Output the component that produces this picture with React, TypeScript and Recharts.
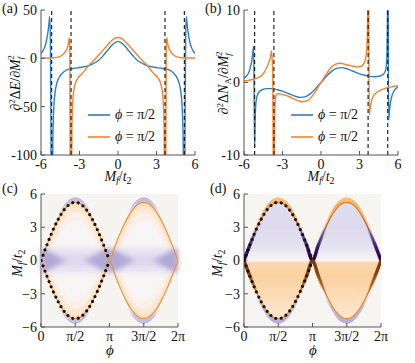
import React from "react";
import {
  ComposedChart,
  Line,
  Area,
  XAxis,
  YAxis,
  ReferenceLine,
  ReferenceArea,
  Legend,
  Label,
  CartesianGrid,
} from "recharts";

const FONT = "Liberation Serif, DejaVu Serif, serif";
const FRAME = "#555";
const BLUE = "#2f7ec1";
const ORANGE = "#f5822a";

// ---- (a) second derivative of the energy gap
const aBlueX = [-6, -5.8, -5.65, -5.55, -5.45, -5.38, -5.32, -5.27, -5.23, -5.2, -5.13, -5.07, -5.0, -4.9, -4.75, -4.55, -4.3, -4.0, -3.5, -3.0, -2.5, -2.0, -1.6, -1.2, -0.8, -0.4, 0, 0.4, 0.8, 1.2, 1.6, 2.0, 2.5, 3.0, 3.5, 4.0, 4.3, 4.55, 4.75, 4.9, 5.0, 5.07, 5.13, 5.2, 5.23, 5.27, 5.32, 5.38, 5.45, 5.55, 5.65, 5.8, 6];
const aBlueY = [5, 9, 14, 20, 28, 36, 43, 20, -60, -150, -150, -80, -50, -35, -25, -19, -15, -12, -10.5, -9.5, -8.5, -6, -3, 2, 8.5, 14.5, 17.5, 14.5, 8.5, 2, -3, -6, -8.5, -9.5, -10.5, -12, -15, -19, -25, -35, -50, -80, -150, -150, -60, 20, 43, 36, 28, 20, 14, 9, 5];
const aOrangeX = [-6, -5.5, -5, -4.6, -4.3, -4.05, -3.9, -3.8, -3.76, -3.71, -3.63, -3.59, -3.5, -3.35, -3.1, -2.8, -2.5, -2.2, -1.8, -1.4, -1.0, -0.6, -0.3, 0, 0.3, 0.6, 1.0, 1.4, 1.8, 2.2, 2.5, 2.8, 3.1, 3.35, 3.5, 3.59, 3.63, 3.71, 3.76, 3.8, 3.9, 4.05, 4.3, 4.6, 5, 5.5, 6];
const aOrangeY = [0.3, 0.3, 0.6, 1.5, 4, 8, 13, 21, 14, -150, -150, -70, -40, -27, -20, -16, -11, -6, -1, 5, 11, 17, 20.5, 21.5, 20.5, 17, 11, 5, -1, -6, -11, -16, -20, -27, -40, -70, -150, -150, 14, 21, 13, 8, 4, 1.5, 0.6, 0.3, 0.3];
const aDivergences = [-5.17, -3.66, 3.66, 5.17];

// ---- (b) second derivative of the sublattice occupation
const bBlueX = [-6, -5.8, -5.6, -5.45, -5.33, -5.25, -5.21, -5.17, -5.13, -5.05, -4.9, -4.6, -4.2, -3.8, -3.4, -3.0, -2.5, -2.0, -1.6, -1.2, -0.8, -0.4, 0, 0.4, 0.8, 1.2, 1.6, 2.0, 2.5, 3.0, 3.4, 3.8, 4.2, 4.6, 4.9, 5.05, 5.13, 5.17, 5.2, 5.23, 5.27, 5.35, 5.45, 5.6, 5.8, 6];
const bBlueY = [0.6, 0.9, 1.5, 2.5, 3.8, 5, -2, -9, -5, -2.5, -1.5, -1.0, -0.85, -0.85, -1.0, -1.2, -1.55, -1.9, -2.05, -1.95, -1.5, -0.8, 0, 0.8, 1.5, 1.95, 2.05, 1.9, 1.55, 1.2, 1.0, 0.85, 0.8, 0.9, 1.2, 1.8, 3.5, 8, 14, 14, -5.2, -3.6, -2.4, -1.5, -0.9, -0.6];
const bOrangeX = [-6, -5.5, -5, -4.6, -4.3, -4.1, -3.95, -3.85, -3.76, -3.71, -3.65, -3.61, -3.57, -3.5, -3.35, -3.1, -2.8, -2.4, -2.0, -1.5, -1.1, -0.7, -0.35, 0, 0.35, 0.7, 1.1, 1.5, 2.0, 2.4, 2.8, 3.1, 3.3, 3.45, 3.55, 3.62, 3.67, 3.71, 3.76, 3.85, 3.98, 4.2, 4.6, 5.0, 5.5, 6];
const bOrangeY = [0.2, 0.35, 0.6, 1.0, 1.8, 2.6, 3.4, 4.4, 1, -14, -14, -5, -2.6, -1.8, -1.55, -1.6, -1.75, -2.0, -2.35, -2.65, -2.55, -1.9, -1.0, 0, 1.0, 1.9, 2.5, 2.65, 2.45, 2.3, 2.15, 2.2, 2.5, 3.1, 4.3, 7, 14, 14, -4.5, -3.3, -2.3, -1.6, -1.1, -0.8, -0.6, -0.45];
const bDivergences = [-5.17, -3.67, 3.67, 5.2];

const seriesNames = ["ϕ = π/2", "ϕ = π/2"];
const seriesColors = [BLUE, ORANGE];
const mTicks = [-6, -3, 0, 3, 6];

// ---- (c), (d) maps over phi (degrees) and M_f
const phiDeg = [0, 15, 30, 45, 60, 75, 90, 105, 120, 135, 150, 165, 180, 195, 210, 225, 240, 255, 270, 285, 300, 315, 330, 345, 360];
const boundC = [0, 1.36, 2.63, 3.71, 4.55, 5.07, 5.25, 5.07, 4.55, 3.71, 2.63, 1.36, 0, 1.36, 2.63, 3.71, 4.55, 5.07, 5.25, 5.07, 4.55, 3.71, 2.63, 1.36, 0];
const boundD = [0, 1.36, 2.63, 3.71, 4.55, 5.07, 5.25, 5.07, 4.55, 3.71, 2.63, 1.36, 0, 1.36, 2.63, 3.71, 4.55, 5.07, 5.25, 5.07, 4.55, 3.71, 2.63, 1.36, 0];
// half height of the purple spots of (c) where the lobes touch
const spotC = [1.1, 0.95, 0.65, 0.35, 0.12, 0, 0, 0, 0.12, 0.35, 0.65, 0.95, 1.1, 0.95, 0.65, 0.35, 0.12, 0, 0, 0, 0.12, 0.35, 0.65, 0.95, 1.1];
const phiTicks = [0, 90, 180, 270, 360];
const phiTickLabels = ["0", "π/2", "π", "3π/2", "2π"];
const cbarTicksC = [-100, 0, 100];
const cbarTicksD = [-10, 0, 10];

// (c) shading: colour bands inside each lobe, from the rim inwards, then the lavender core around M_f = 0
const cRimInset = [0, 0.35, 0.9, 1.6];
const cRimColors = ["#fbdfbd", "#fce8d4", "#fbf0e7", "#f7f5f5"];
const cRimBlur = [0, 1.2, 1.2, 1.2];
const cCoreHalf = [1.2, 0.6];
const cCoreColors = ["#e9e6f3", "#dedaee"];

const GLOW = 0.45;

const rowsA_blue = aBlueX.map((x, i) => ({ x, blue: aBlueY[i] }));
const rowsA_orange = aOrangeX.map((x, i) => ({ x, orange: aOrangeY[i] }));
const rowsB_blue = bBlueX.map((x, i) => ({ x, blue: bBlueY[i] }));
const rowsB_orange = bOrangeX.map((x, i) => ({ x, orange: bOrangeY[i] }));

const heatRows = (bound: number[]) =>
  phiDeg.map((phi, i) => {
    const b = bound[i];
    const row: Record<string, number | null> = {
      phi,
      up: b,
      dn: -b,
      gUp: b + GLOW,
      gDn: -b - GLOW,
      sUp: spotC[i],
      sDn: -spotC[i],
      dotUp: phi <= 180 ? b : null,
      dotDn: phi <= 180 ? -b : null,
    };
    cRimInset.forEach((d, k) => {
      row[`r${k}u`] = Math.max(b - d, 0);
      row[`r${k}d`] = -Math.max(b - d, 0);
    });
    cCoreHalf.forEach((h, k) => {
      row[`k${k}u`] = Math.min(b, h);
      row[`k${k}d`] = -Math.min(b, h);
    });
    return row;
  });
const heatC = heatRows(boundC);
const heatD = heatRows(boundD);

const tickStyle = { fontSize: 14, fill: "#111", fontFamily: FONT };
const minus = (v: number) => (v < 0 ? "\u2212" + Math.abs(v) : String(v));
const phiFmt = (v: number) => phiTickLabels[phiTicks.indexOf(v)] ?? "";
const blank = () => "";

// vertical gradient over a shape's bounding box, stops given in M_f units
function BoxGrad({ id, top, bottom, stops }: { id: string; top: number; bottom: number; stops: [number, string, number][] }) {
  return (
    <linearGradient id={id} x1={0} y1={0} x2={0} y2={1}>
      {stops.map(([m, c, o], i) => (
        <stop key={i} offset={Math.min(1, Math.max(0, (top - m) / (top - bottom)))} stopColor={c} stopOpacity={o} />
      ))}
    </linearGradient>
  );
}

function axes(o: {
  xKey: string;
  xDomain: number[];
  xTicks: number[];
  xFmt?: (v: number) => string;
  xHeight: number;
  xTickMargin: number;
  yDomain: number[];
  yTicks: number[];
  yFmt?: (v: number) => string;
  xLabel: () => any;
  yLabel: () => any;
}) {
  return [
    <XAxis
      key="xb"
      dataKey={o.xKey}
      type="number"
      domain={o.xDomain}
      ticks={o.xTicks}
      tickFormatter={o.xFmt}
      interval={0}
      height={o.xHeight}
      stroke={FRAME}
      tickSize={-4}
      tickMargin={o.xTickMargin}
      tick={tickStyle}
      allowDataOverflow
    >
      <Label content={o.xLabel} />
    </XAxis>,
    <XAxis
      key="xt"
      xAxisId="t"
      orientation="top"
      type="number"
      domain={o.xDomain}
      ticks={o.xTicks}
      interval={0}
      height={0}
      stroke={FRAME}
      tickSize={-4}
      tickFormatter={blank}
      allowDataOverflow
    />,
    <YAxis
      key="yl"
      type="number"
      domain={o.yDomain}
      ticks={o.yTicks}
      tickFormatter={o.yFmt}
      interval={0}
      width={41}
      stroke={FRAME}
      tickSize={-4}
      tickMargin={8}
      tick={tickStyle}
      allowDataOverflow
    >
      <Label content={o.yLabel} />
    </YAxis>,
    <YAxis
      key="yr"
      yAxisId="r"
      orientation="right"
      type="number"
      domain={o.yDomain}
      ticks={o.yTicks}
      interval={0}
      width={0}
      stroke={FRAME}
      tickSize={-4}
      tickFormatter={blank}
      allowDataOverflow
    />,
  ];
}

const hiddenAxes = [
  <XAxis key="hx" dataKey="phi" type="number" domain={[0, 360]} hide allowDataOverflow />,
  <YAxis key="hy" type="number" domain={[-6, 6]} hide allowDataOverflow />,
];

const MfOverT = (x: number, y: number, rotate: boolean) => () => (
  <text
    x={x}
    y={y}
    transform={rotate ? `rotate(-90 ${x} ${y})` : undefined}
    textAnchor="middle"
    fontFamily={FONT}
    fontSize={14}
    fill="#111"
  >
    <tspan fontStyle="italic">M</tspan>
    <tspan dy={3} fontSize={10} fontStyle="italic">f</tspan>
    <tspan dy={-3}>/</tspan>
    <tspan fontStyle="italic">t</tspan>
    <tspan dy={3} fontSize={10}>2</tspan>
  </text>
);

const phiLabel = (x: number, y: number) => () => (
  <text x={x} y={y} textAnchor="middle" fontFamily={FONT} fontSize={15} fontStyle="italic" fill="#111">
    ϕ
  </text>
);

const dELabel = () => (
  <text x={20} y={83} transform="rotate(-90 20 83)" textAnchor="middle" fontFamily={FONT} fontSize={14} fill="#111">
    <tspan>∂</tspan>
    <tspan dy={-5} fontSize={9}>2</tspan>
    <tspan dy={5}>Δ</tspan>
    <tspan fontStyle="italic">E</tspan>
    <tspan>/∂</tspan>
    <tspan fontStyle="italic">M</tspan>
    <tspan dy={3} fontSize={9} fontStyle="italic">f</tspan>
    <tspan dx={-3} dy={-9} fontSize={9}>2</tspan>
  </text>
);

const dNLabel = () => (
  <text x={25} y={83} transform="rotate(-90 25 83)" textAnchor="middle" fontFamily={FONT} fontSize={14} fill="#111">
    <tspan>∂</tspan>
    <tspan dy={-5} fontSize={9}>2</tspan>
    <tspan dy={5}>Δ</tspan>
    <tspan fontStyle="italic">N</tspan>
    <tspan dy={3} fontSize={9}>A</tspan>
    <tspan dy={-3}>/∂</tspan>
    <tspan fontStyle="italic">M</tspan>
    <tspan dy={3} fontSize={9} fontStyle="italic">f</tspan>
    <tspan dx={-3} dy={-9} fontSize={9}>2</tspan>
  </text>
);

const legendContent = () => (
  <div style={{ fontFamily: FONT, fontSize: 14, color: "#111" }}>
    {seriesNames.map((v, i) => (
      <div key={i} style={{ display: "flex", alignItems: "center", height: 22 }}>
        <svg width={22} height={6} style={{ marginRight: 5, flex: "none" }}>
          <line x1={0} y1={3} x2={22} y2={3} stroke={seriesColors[i]} strokeWidth={1.6} />
        </svg>
        <span>
          <i>{v[0]}</i>
          {v.slice(1)}
        </span>
      </div>
    ))}
  </div>
);

function LinePanel(p: {
  width: number;
  right: number;
  blue: any[];
  orange: any[];
  yDomain: number[];
  yTicks: number[];
  div: number[];
  yLabel: () => any;
  legendLeft: number;
}) {
  return (
    <ComposedChart width={p.width} height={185} margin={{ top: 10, right: p.right, bottom: 0, left: 0 }}>
      {axes({
        xKey: "x",
        xDomain: [-6, 6],
        xTicks: mTicks,
        xHeight: 30,
        xTickMargin: 8,
        yDomain: p.yDomain,
        yTicks: p.yTicks,
        xLabel: MfOverT(118, 181, false),
        yLabel: p.yLabel,
      })}
      <Line data={p.blue} dataKey="blue" name={seriesNames[0]} type="monotone" stroke={BLUE} strokeWidth={1.4} dot={false} activeDot={false} isAnimationActive={false} />
      <Line data={p.orange} dataKey="orange" name={seriesNames[1]} type="monotone" stroke={ORANGE} strokeWidth={1.4} dot={false} activeDot={false} isAnimationActive={false} />
      {p.div.map((x) => (
        <ReferenceLine key={x} x={x} stroke="#111" strokeWidth={1.1} strokeDasharray="4 3" />
      ))}
      <Legend
        layout="vertical"
        align="center"
        verticalAlign="middle"
        content={legendContent}
        wrapperStyle={{ left: p.legendLeft, top: 104, width: 90 }}
      />
    </ComposedChart>
  );
}

const noMarks = { dot: false, activeDot: false, isAnimationActive: false } as const;
const HEAT_H = 183;
const layer: React.CSSProperties = { position: "absolute", left: 0, top: 0 };

// a transparent chart drawn over the base one with the same plot box
function Overlay({ width, right, data, blur, children }: { width: number; right: number; data: any[]; blur?: number; children: React.ReactNode }) {
  return (
    <div style={{ ...layer, filter: blur ? `blur(${blur}px)` : undefined }}>
      <ComposedChart width={width} height={HEAT_H} data={data} margin={{ top: 14, right, bottom: 36, left: 41 }}>
        {hiddenAxes}
        {children}
      </ComposedChart>
    </div>
  );
}

// pair of solid areas, one above and one below M_f = 0, never overlapping
const solidPair = (u: string, d: string, color: string) => [
  <Area key={u} dataKey={u} baseValue={0} type="monotone" stroke="none" fill={color} fillOpacity={1} {...noMarks} />,
  <Area key={d} dataKey={d} baseValue={0} type="monotone" stroke="none" fill={color} fillOpacity={1} {...noMarks} />,
];

function HeatBase(p: {
  width: number;
  right: number;
  data: any[];
  bg: string;
  yLabelX: number;
  tag: string;
  glowUp: [number, string, number][];
  glowDn: [number, string, number][];
}) {
  return (
    <div style={layer}>
      <ComposedChart width={p.width} height={HEAT_H} data={p.data} margin={{ top: 14, right: p.right, bottom: 0, left: 0 }}>
        <defs>
          <BoxGrad id={`${p.tag}GlowUp`} top={5.7} bottom={0} stops={p.glowUp} />
          <BoxGrad id={`${p.tag}GlowDn`} top={0} bottom={-5.7} stops={p.glowDn} />
        </defs>
        <CartesianGrid horizontal={false} vertical={false} fill={p.bg} stroke="none" />
        {axes({
          xKey: "phi",
          xDomain: [0, 360],
          xTicks: phiTicks,
          xFmt: phiFmt,
          xHeight: 36,
          xTickMargin: 8,
          yDomain: [-6, 6],
          yTicks: mTicks,
          yFmt: minus,
          xLabel: phiLabel(110, 175),
          yLabel: MfOverT(p.yLabelX, 83, true),
        })}
        <Area dataKey="gUp" baseValue={0} type="monotone" stroke="none" fill={`url(#${p.tag}GlowUp)`} fillOpacity={1} {...noMarks} />
        <Area dataKey="gDn" baseValue={0} type="monotone" stroke="none" fill={`url(#${p.tag}GlowDn)`} fillOpacity={1} {...noMarks} />
      </ComposedChart>
    </div>
  );
}

const dotLines = [
  <Line key="du" dataKey="dotUp" type="monotone" stroke="#111" strokeWidth={3.2} strokeDasharray="0 5.6" strokeLinecap="round" {...noMarks} />,
  <Line key="dd" dataKey="dotDn" type="monotone" stroke="#111" strokeWidth={3.2} strokeDasharray="0 5.6" strokeLinecap="round" {...noMarks} />,
];

function PanelC() {
  const w = 205;
  const r = 27;
  return (
    <div style={{ position: "relative", width: w, height: HEAT_H }}>
      <HeatBase
        width={w}
        right={r}
        data={heatC}
        bg="#f6f4f1"
        yLabelX={22}
        tag="c"
        glowUp={[[5.7, "#bfb6dc", 1], [4.9, "#cbc4e3", 0.9], [4.0, "#e6e2f1", 0]]}
        glowDn={[[-4.0, "#e6e2f1", 0], [-4.9, "#cbc4e3", 0.9], [-5.7, "#bfb6dc", 1]]}
      />
      {cRimInset.map((_, k) => (
        <Overlay key={`r${k}`} width={w} right={r} data={heatC} blur={cRimBlur[k]}>
          {solidPair(`r${k}u`, `r${k}d`, cRimColors[k])}
        </Overlay>
      ))}
      {cCoreHalf.map((_, k) => (
        <Overlay key={`k${k}`} width={w} right={r} data={heatC} blur={2.2}>
          {solidPair(`k${k}u`, `k${k}d`, cCoreColors[k])}
        </Overlay>
      ))}
      <Overlay width={w} right={r} data={heatC} blur={2.4}>
        <Area dataKey="sUp" baseValue={0} type="monotone" stroke="none" fill="#a49ad0" fillOpacity={0.8} {...noMarks} />
        <Area dataKey="sDn" baseValue={0} type="monotone" stroke="none" fill="#a49ad0" fillOpacity={0.8} {...noMarks} />
      </Overlay>
      <Overlay width={w} right={r} data={heatC}>
        <Line dataKey="up" type="monotone" stroke="#ec8f30" strokeWidth={1.1} {...noMarks} />
        <Line dataKey="dn" type="monotone" stroke="#ec8f30" strokeWidth={1.1} {...noMarks} />
        {dotLines}
      </Overlay>
    </div>
  );
}

function PanelD() {
  const w = 212;
  const r = 34;
  return (
    <div style={{ position: "relative", width: w, height: HEAT_H }}>
      <HeatBase
        width={w}
        right={r}
        data={heatD}
        bg="#f7f5f1"
        yLabelX={19}
        tag="d"
        glowUp={[[5.7, "#f8c484", 1], [5.0, "#f5b060", 1], [3.6, "#f7c07c", 0.9], [2.2, "#f9d6ab", 0.5], [1.2, "#ffffff", 0]]}
        glowDn={[[-2.8, "#c9c2e3", 0], [-4.2, "#bfb6dd", 0.9], [-5.7, "#b6acd8", 1]]}
      />
      <Overlay width={w} right={r} data={heatD}>
        <defs>
          <BoxGrad id="dTop" top={5.25} bottom={0} stops={[[5.25, "#e0ddef", 1], [3, "#dedaed", 1], [1.5, "#e3e0f0", 1], [0.6, "#eeecf4", 1], [0, "#f6f5f6", 1]]} />
          <BoxGrad id="dBottom" top={0} bottom={-5.25} stops={[[0, "#fbf0e4", 1], [-0.25, "#fbd8ae", 1], [-1.5, "#fad1a0", 1], [-3, "#fcdbb5", 1], [-5.25, "#fde7d0", 1]]} />
        </defs>
        <Area dataKey="up" baseValue={0} type="monotone" stroke="none" fill="url(#dTop)" fillOpacity={1} {...noMarks} />
        <Area dataKey="dn" baseValue={0} type="monotone" stroke="none" fill="url(#dBottom)" fillOpacity={1} {...noMarks} />
      </Overlay>
      <Overlay width={w} right={r} data={heatD}>
        <defs>
          <BoxGrad id="dThickUp" top={5.25} bottom={0} stops={[[3, "#8073ac", 0], [2.2, "#5f4c98", 0.6], [1.2, "#3d1a6c", 1], [0, "#2d004b", 1]]} />
          <BoxGrad id="dThickDn" top={0} bottom={-5.25} stops={[[0, "#7f3b08", 1], [-1.2, "#8a460b", 1], [-2.2, "#c06a18", 0.6], [-3, "#e08214", 0]]} />
          <BoxGrad id="dThinUp" top={5.25} bottom={0} stops={[[5.25, "#d5802a", 1], [4.2, "#d5802a", 1], [3, "#a05c3a", 1], [2, "#4a2a7a", 1], [0, "#2d004b", 1]]} />
          <BoxGrad id="dThinDn" top={0} bottom={-5.25} stops={[[0, "#7f3b08", 1], [-2, "#8f4a0c", 1], [-3.4, "#e08a2c", 1], [-5.25, "#e8902f", 1]]} />
        </defs>
        <Line dataKey="up" type="monotone" stroke="url(#dThickUp)" strokeWidth={3.5} {...noMarks} />
        <Line dataKey="dn" type="monotone" stroke="url(#dThickDn)" strokeWidth={3.5} {...noMarks} />
        <Line dataKey="up" type="monotone" stroke="url(#dThinUp)" strokeWidth={1.2} {...noMarks} />
        <Line dataKey="dn" type="monotone" stroke="url(#dThinDn)" strokeWidth={1.2} {...noMarks} />
        {dotLines}
      </Overlay>
    </div>
  );
}

const PUOR = ["#2d004b", "#542788", "#8073ac", "#b2abd2", "#d8daeb", "#f7f7f7", "#fee0b6", "#fdb863", "#e08214", "#b35806", "#7f3b08"];

function ColorBar({ id, ticks, width }: { id: string; ticks: number[]; width: number }) {
  const lim = ticks[ticks.length - 1];
  const shape = (s: any) => {
    const { x, y, width: w, height: h } = s;
    return (
      <g>
        <path d={`M${x},${y} L${x + w / 2},${y - 6} L${x + w},${y} Z`} fill={PUOR[0]} />
        <rect x={x} y={y} width={w} height={h} fill={`url(#${id})`} />
        <path d={`M${x},${y + h} L${x + w / 2},${y + h + 6} L${x + w},${y + h} Z`} fill={PUOR[PUOR.length - 1]} />
      </g>
    );
  };
  return (
    <ComposedChart width={width} height={120} data={[{ x: 0 }, { x: 1 }]} margin={{ top: 11, right: 0, bottom: 13, left: 5 }}>
      <defs>
        <linearGradient id={id} x1={0} y1={0} x2={0} y2={1}>
          {PUOR.map((c, i) => (
            <stop key={i} offset={i / (PUOR.length - 1)} stopColor={c} />
          ))}
        </linearGradient>
      </defs>
      <XAxis dataKey="x" type="number" domain={[0, 1]} hide />
      <YAxis
        orientation="right"
        type="number"
        domain={[-lim, lim]}
        ticks={ticks}
        interval={0}
        width={width - 10}
        axisLine={false}
        tickLine={{ stroke: "#444" }}
        tickSize={3}
        tickMargin={2}
        tick={tickStyle}
      />
      <ReferenceArea x1={0} x2={1} y1={-lim} y2={lim} shape={shape} />
    </ComposedChart>
  );
}

const letterStyle = (left: number, top: number): React.CSSProperties => ({
  position: "absolute",
  left,
  top,
  fontFamily: FONT,
  fontSize: 14,
  lineHeight: "14px",
  color: "#111",
});

export default function App() {
  return (
    <div style={{ position: "absolute", left: 0, top: 0, width: 415, height: 363, background: "#fff", overflow: "hidden", fontFamily: FONT }}>
      <div style={{ position: "absolute", left: 0, top: 0 }}>
        <LinePanel width={205} right={10} blue={rowsA_blue} orange={rowsA_orange} yDomain={[-100, 50]} yTicks={[-100, -50, 0, 50]} div={aDivergences} yLabel={dELabel} legendLeft={88} />
      </div>
      <div style={{ position: "absolute", left: 203, top: 0 }}>
        <LinePanel width={212} right={17} blue={rowsB_blue} orange={rowsB_orange} yDomain={[-10, 10]} yTicks={[-10, 0, 10]} div={bDivergences} yLabel={dNLabel} legendLeft={88} />
      </div>
      <div style={{ position: "absolute", left: 0, top: 180 }}>
        <PanelC />
      </div>
      <div style={{ position: "absolute", left: 176, top: 195 }}>
        <ColorBar id="cbarC" ticks={cbarTicksC} width={42} />
      </div>
      <div style={{ position: "absolute", left: 203, top: 180 }}>
        <PanelD />
      </div>
      <div style={{ position: "absolute", left: 380, top: 195 }}>
        <ColorBar id="cbarD" ticks={cbarTicksD} width={35} />
      </div>
      <div style={letterStyle(2, 2)}>(a)</div>
      <div style={letterStyle(205, 2)}>(b)</div>
      <div style={letterStyle(2, 182)}>(c)</div>
      <div style={letterStyle(210, 182)}>(d)</div>
    </div>
  );
}
